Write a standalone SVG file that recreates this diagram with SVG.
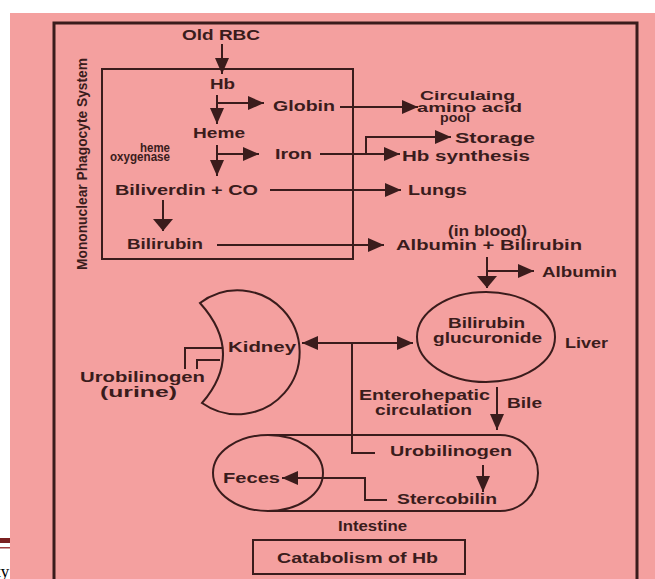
<svg xmlns="http://www.w3.org/2000/svg" width="655" height="579" viewBox="0 0 655 579">
<style>
.ln{stroke:#3a1c1c;stroke-width:2;fill:none}
.fr{stroke:#3a1c1c;stroke-width:3;fill:none}
.t{font-family:"Liberation Sans",Arial,sans-serif;font-weight:bold;font-size:15px;fill:#3a1c1c}
.s{font-size:12.5px}
</style>
<defs>
<marker id="ah" markerUnits="userSpaceOnUse" markerWidth="16" markerHeight="14" refX="16" refY="7" orient="auto">
<path d="M0,0 L16,7 L0,14 z" fill="#3a1c1c"/>
</marker>
<marker id="ahs" markerUnits="userSpaceOnUse" markerWidth="16" markerHeight="14" refX="0" refY="7" orient="auto">
<path d="M16,0 L0,7 L16,14 z" fill="#3a1c1c"/>
</marker>
<marker id="ahb" markerUnits="userSpaceOnUse" markerWidth="12" markerHeight="20" refX="12" refY="10" orient="auto">
<path d="M0,0 L12,10 L0,20 z" fill="#3a1c1c"/>
</marker>
</defs>
<rect x="0" y="0" width="655" height="579" fill="#ffffff"/>
<text x="-4" y="577" font-family="Liberation Serif, serif" font-size="17" fill="#000">ty</text>
<rect x="10" y="13" width="645" height="566" fill="#f4a09f"/>
<rect x="0" y="538" width="10" height="5" fill="#7a2020"/>
<rect x="0" y="547" width="10" height="1.5" fill="#a04040"/>

<g id="frame">
<path class="fr" d="M54,600 V23 H637 V600"/>
</g>

<g id="mps">
<rect class="ln" x="102" y="69" width="251" height="190"/>
<text class="t" transform="translate(87,270) rotate(-90)" textLength="212" lengthAdjust="spacingAndGlyphs">Mononuclear Phagocyte System</text>
</g>

<g id="oldrbc"><text class="t" x="182" y="40" textLength="78" lengthAdjust="spacingAndGlyphs">Old RBC</text></g>
<g id="hb"><text class="t" x="210" y="89" textLength="25" lengthAdjust="spacingAndGlyphs">Hb</text></g>
<g id="globin"><text class="t" x="273" y="111" textLength="62" lengthAdjust="spacingAndGlyphs">Globin</text></g>
<g id="aminopool">
<text class="t s" x="420" y="100" textLength="95" lengthAdjust="spacingAndGlyphs">Circulaing</text>
<text class="t s" x="417" y="112" textLength="105" lengthAdjust="spacingAndGlyphs">amino acid</text>
<text class="t s" x="440" y="122" textLength="30" lengthAdjust="spacingAndGlyphs">pool</text>
</g>
<g id="heme"><text class="t" x="193" y="138" textLength="52" lengthAdjust="spacingAndGlyphs">Heme</text></g>
<g id="hemeox">
<text class="t s" x="140" y="152" textLength="30" lengthAdjust="spacingAndGlyphs">heme</text>
<text class="t s" x="110" y="161" textLength="60" lengthAdjust="spacingAndGlyphs">oxygenase</text>
</g>
<g id="iron"><text class="t" x="275" y="159" textLength="37" lengthAdjust="spacingAndGlyphs">Iron</text></g>
<g id="storage"><text class="t" x="455" y="143" textLength="80" lengthAdjust="spacingAndGlyphs">Storage</text></g>
<g id="hbsynth"><text class="t" x="402" y="161" textLength="128" lengthAdjust="spacingAndGlyphs">Hb synthesis</text></g>
<g id="biliverdin"><text class="t" x="115" y="195" textLength="143" lengthAdjust="spacingAndGlyphs">Biliverdin + CO</text></g>
<g id="lungs"><text class="t" x="408" y="195" textLength="59" lengthAdjust="spacingAndGlyphs">Lungs</text></g>
<g id="bilirubin"><text class="t" x="127" y="249" textLength="76" lengthAdjust="spacingAndGlyphs">Bilirubin</text></g>
<g id="albbil">
<text class="t" x="448" y="236" textLength="79" lengthAdjust="spacingAndGlyphs">(in blood)</text>
<text class="t" x="396" y="250" textLength="186" lengthAdjust="spacingAndGlyphs">Albumin + Bilirubin</text>
</g>
<g id="albumin"><text class="t" x="542" y="277" textLength="75" lengthAdjust="spacingAndGlyphs">Albumin</text></g>

<g id="liver">
<ellipse class="ln" cx="486" cy="337" rx="69" ry="45"/>
<text class="t" x="448" y="328" textLength="77" lengthAdjust="spacingAndGlyphs">Bilirubin</text>
<text class="t" x="433" y="343" textLength="109" lengthAdjust="spacingAndGlyphs">glucuronide</text>
<text class="t" x="565" y="348" textLength="43" lengthAdjust="spacingAndGlyphs">Liver</text>
</g>

<g id="kidney">
<path class="ln" d="M200,303 A62,62 0 1 1 202,403 Q245,353 200,303 Z"/>
<text class="t" x="228" y="352" textLength="68" lengthAdjust="spacingAndGlyphs">Kidney</text>
</g>

<g id="urine">
<text class="t" x="80" y="382" textLength="125" lengthAdjust="spacingAndGlyphs">Urobilinogen</text>
<text class="t" x="100" y="397" textLength="77" lengthAdjust="spacingAndGlyphs">(urine)</text>
</g>

<g id="enterohepatic">
<text class="t" x="359" y="400" textLength="131" lengthAdjust="spacingAndGlyphs">Enterohepatic</text>
<text class="t" x="375" y="415" textLength="97" lengthAdjust="spacingAndGlyphs">circulation</text>
</g>
<g id="bile"><text class="t" x="507" y="408" textLength="35" lengthAdjust="spacingAndGlyphs">Bile</text></g>

<g id="intestine">
<path class="ln" d="M268,435 H500 A38,38 0 0 1 500,511 H268"/>
<text class="t" x="338" y="531" textLength="69" lengthAdjust="spacingAndGlyphs">Intestine</text>
</g>
<g id="feces">
<ellipse class="ln" cx="268" cy="473" rx="55" ry="38"/>
<text class="t" x="223" y="483" textLength="57" lengthAdjust="spacingAndGlyphs">Feces</text>
</g>
<g id="urobilinogen"><text class="t" x="390" y="456" textLength="122" lengthAdjust="spacingAndGlyphs">Urobilinogen</text></g>
<g id="stercobilin"><text class="t" x="397" y="504" textLength="100" lengthAdjust="spacingAndGlyphs">Stercobilin</text></g>

<g id="title">
<rect class="ln" x="253" y="540" width="212" height="34"/>
<text class="t" x="277" y="563" textLength="161" lengthAdjust="spacingAndGlyphs">Catabolism of Hb</text>
</g>

<g id="connectors">
<path class="ln" d="M222,44 V74" marker-end="url(#ah)"/>
<path class="ln" d="M217,95 V124" marker-end="url(#ah)"/>
<path class="ln" d="M217,103 H264" marker-end="url(#ah)"/>
<path class="ln" d="M340,107 H418" marker-end="url(#ah)"/>
<path class="ln" d="M217,145 V176" marker-end="url(#ah)"/>
<path class="ln" d="M217,154 H259" marker-end="url(#ah)"/>
<path class="ln" d="M320,154 H400" marker-end="url(#ah)"/>
<path class="ln" d="M366,154 V137 H451" marker-end="url(#ah)"/>
<path class="ln" d="M270,190 H401" marker-end="url(#ah)"/>
<path class="ln" d="M163,200 V231" marker-end="url(#ahb)"/>
<path class="ln" d="M217,245 H384" marker-end="url(#ah)"/>
<path class="ln" d="M487,257 V288" marker-end="url(#ahb)"/>
<path class="ln" d="M487,271 H534" marker-end="url(#ah)"/>
<path class="ln" d="M302,343 H413" marker-start="url(#ahs)" marker-end="url(#ah)"/>
<path class="ln" d="M352,343 V453 H375"/>
<path class="ln" d="M497,387 V430" marker-end="url(#ah)"/>
<path class="ln" d="M483,465 V492" marker-end="url(#ah)"/>
<path class="ln" d="M387,500 H365 V478 H282" marker-end="url(#ah)"/>
<path class="ln" d="M222,348 H185 V369"/>
<path class="ln" d="M220,360 H197 V369"/>
</g>
</svg>
